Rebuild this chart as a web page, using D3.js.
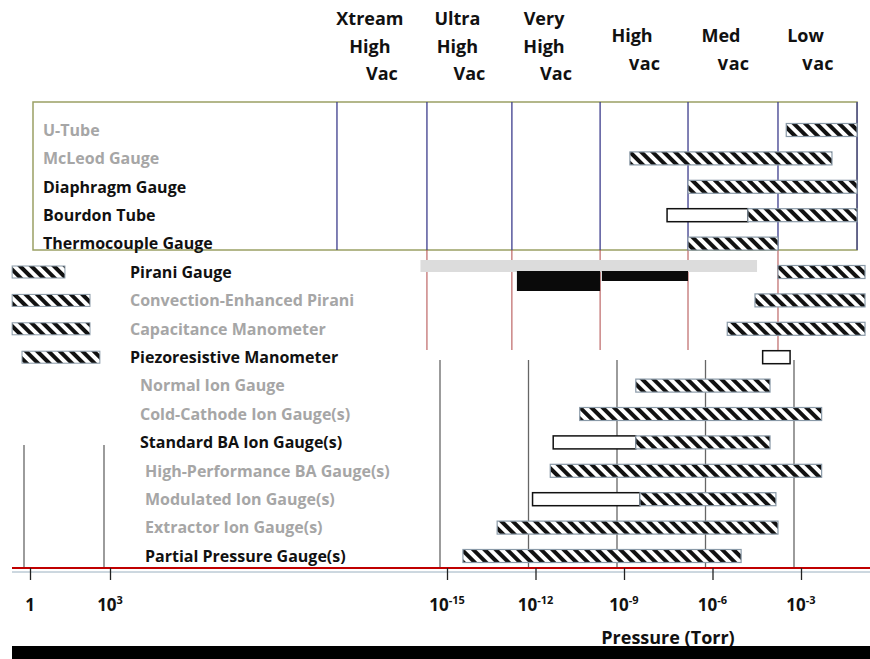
<!DOCTYPE html>
<html>
<head>
<meta charset="utf-8">
<script src="https://cdn.jsdelivr.net/npm/d3@7"></script>
<style>
  body { margin: 0; background: #fff; }
  svg { display: block; }
  text { font-family: "Open Sans", Lato, sans-serif; font-weight: bold; }
</style>
</head>
<body>
<div id="chart"></div>
<script>
// gauge rows, top to bottom
const gauges = ["U-Tube", "McLeod Gauge", "Diaphragm Gauge", "Bourdon Tube", "Thermocouple Gauge",
  "Pirani Gauge", "Convection-Enhanced Pirani", "Capacitance Manometer", "Piezoresistive Manometer",
  "Normal Ion Gauge", "Cold-Cathode Ion Gauge(s)", "Standard BA Ion Gauge(s)",
  "High-Performance BA Gauge(s)", "Modulated Ion Gauge(s)", "Extractor Ion Gauge(s)", "Partial Pressure Gauge(s)"];
const gaugeGrey = [true, true, false, false, false, false, true, true, false, true, true, false, true, true, true, false];

// log10(pressure, Torr) ranges
const hatchFrom = [-3.5, -8.8, -6.83, -4.8, -6.83, -3.78, -4.56, -5.5, null, -8.6, -10.5, -8.6, -11.5, -8.46, -13.3, -14.46];
const hatchTo   = [-1.1, -1.95, -1.1, -1.1, -3.78, -0.83, -0.83, -0.83, null, -4.05, -2.3, -4.05, -2.3, -3.85, -3.78, -5.03];
const openFrom  = [null, null, null, -7.54, null, null, null, null, -4.3, null, null, -11.4, null, -12.1, null, null];
const openTo    = [null, null, null, -4.8, null, null, null, null, -3.37, null, null, -8.6, null, -8.46, null, null];

// vacuum regions (header) and their boundaries
const regions = [["Xtream", "High", "Vac"], ["Ultra", "High", "Vac"], ["Very", "High", "Vac"],
  ["High", "Vac"], ["Med", "Vac"], ["Low", "Vac"]];
const regionEdges = [-18.73, -15.68, -12.8, -9.81, -6.83, -3.78, -1.1];

// axis ticks
const tickExps = [-15, -12, -9, -6, -3];
const leftTickExps = [0, 3];

// solid / band marks in the Pirani row
const piraniBand = [-15.9, -4.49];
const piraniSolid = [[-12.63, -9.81], [-9.75, -6.83]];

// ghost copies on the far left (left scale)
const ghostRows = ["Pirani Gauge", "Convection-Enhanced Pirani", "Capacitance Manometer", "Piezoresistive Manometer"];
const ghostFrom = [-0.67, -0.67, -0.67, -0.3];
const ghostTo   = [1.31, 2.25, 2.25, 2.62];

const W = 870, H = 659;
const svg = d3.select("#chart").append("svg").attr("width", W).attr("height", H);

const x = d3.scaleLog().domain([1e-15, 1e-3]).range([447, 801]);
const xl = d3.scaleLog().domain([1, 1e3]).range([30, 110]);
const y = d3.scalePoint().domain(gauges).range([130, 556]);
const bh = 13;

const defs = svg.append("defs");
defs.append("pattern")
  .attr("id", "hatch").attr("patternUnits", "userSpaceOnUse")
  .attr("width", 8).attr("height", 8).attr("patternTransform", "rotate(-45)")
  .call(p => {
    p.append("rect").attr("width", 8).attr("height", 8).attr("fill", "#fff");
    p.append("rect").attr("width", 4).attr("height", 8).attr("fill", "#111");
  });
defs.append("clipPath").attr("id", "vacClip")
  .append("rect").attr("x", 580).attr("y", 59).attr("width", 290).attr("height", 20);

// panel
svg.append("rect")
  .attr("x", 33).attr("y", 102).attr("width", 824).attr("height", 148)
  .attr("fill", "none").attr("stroke", "#9aa064").attr("stroke-width", 1.5);

// header region grid lines (upper part)
svg.append("g").selectAll("line").data(regionEdges).join("line")
  .attr("x1", d => x(10 ** d)).attr("x2", d => x(10 ** d))
  .attr("y1", 102).attr("y2", 250)
  .attr("stroke", "#3c3c8c").attr("stroke-width", 1.3);

// middle grid lines
svg.append("g").selectAll("line").data(regionEdges.slice(1, 6)).join("line")
  .attr("x1", d => x(10 ** d)).attr("x2", d => x(10 ** d))
  .attr("y1", 250).attr("y2", 350)
  .attr("stroke", "#b04848").attr("stroke-width", 1);

// lower grid lines follow the ticks
svg.append("g").selectAll("line").data(tickExps).join("line")
  .attr("x1", d => x(10 ** d) - 7).attr("x2", d => x(10 ** d) - 7)
  .attr("y1", 360).attr("y2", 568)
  .attr("stroke", "#666").attr("stroke-width", 1.3);

// header labels
const hdr = svg.append("g");
regions.forEach((words, i) => {
  const cx = (x(10 ** regionEdges[i]) + x(10 ** regionEdges[i + 1])) / 2 - 12;
  const top = words.length === 3 ? 25 : 42;
  words.forEach((w, j) => {
    const last = j === words.length - 1;
    hdr.append("text")
      .attr("x", cx + (last ? 12 : 0))
      .attr("y", top + j * 27.5)
      .attr("text-anchor", "middle")
      .attr("font-size", 18)
      .attr("fill", "#111")
      .attr("clip-path", last && words.length === 2 ? "url(#vacClip)" : null)
      .text(w);
  });
});

// Pirani band + solid bars
svg.append("rect")
  .attr("x", x(10 ** piraniBand[0])).attr("width", x(10 ** piraniBand[1]) - x(10 ** piraniBand[0]))
  .attr("y", y("Pirani Gauge") - 12).attr("height", 12).attr("fill", "#dcdcdc");
svg.append("g").selectAll("rect").data(piraniSolid).join("rect")
  .attr("x", d => x(10 ** d[0])).attr("width", d => x(10 ** d[1]) - x(10 ** d[0]))
  .attr("y", y("Pirani Gauge") - 1).attr("height", (d, i) => i === 0 ? 20 : 10)
  .attr("fill", "#0a0a0a");

// left ghost bars
svg.append("g").selectAll("rect").data(ghostRows).join("rect")
  .attr("x", (d, i) => xl(10 ** ghostFrom[i]))
  .attr("width", (d, i) => xl(10 ** ghostTo[i]) - xl(10 ** ghostFrom[i]))
  .attr("y", d => y(d) - 6).attr("height", 12)
  .attr("fill", "url(#hatch)").attr("stroke", "#8a9aa8");
svg.append("g").selectAll("line").data(leftTickExps).join("line")
  .attr("x1", d => xl(10 ** d) - 6).attr("x2", d => xl(10 ** d) - 6)
  .attr("y1", 445).attr("y2", 568)
  .attr("stroke", "#666").attr("stroke-width", 1.3);

// open (outline) bars
const rows = gauges.map((g, i) => ({g, i}));
svg.append("g").selectAll("rect").data(rows.filter(d => openFrom[d.i] !== null)).join("rect")
  .attr("x", d => x(10 ** openFrom[d.i]))
  .attr("width", d => x(10 ** openTo[d.i]) - x(10 ** openFrom[d.i]))
  .attr("y", d => y(d.g) - bh / 2).attr("height", bh)
  .attr("fill", "#fff").attr("stroke", "#111").attr("stroke-width", 1.5);

// hatched bars
svg.append("g").selectAll("rect").data(rows.filter(d => hatchFrom[d.i] !== null)).join("rect")
  .attr("x", d => x(10 ** hatchFrom[d.i]))
  .attr("width", d => x(10 ** hatchTo[d.i]) - x(10 ** hatchFrom[d.i]))
  .attr("y", d => y(d.g) - bh / 2).attr("height", bh)
  .attr("fill", "url(#hatch)").attr("stroke", "#8a9aa8").attr("stroke-width", 1.2);

// row labels
const indent = i => i < 5 ? 43 : i < 9 ? 130 : i < 12 ? 140 : 145;
svg.append("g").selectAll("text").data(rows).join("text")
  .attr("x", d => indent(d.i))
  .attr("y", d => y(d.g))
  .attr("dy", "0.36em")
  .attr("font-size", 16)
  .attr("fill", d => gaugeGrey[d.i] ? "#a6a6a6" : "#111")
  .text(d => d.g);

// x axis
const axisY = 568;
svg.append("line").attr("x1", 12).attr("x2", 870).attr("y1", axisY).attr("y2", axisY)
  .attr("stroke", "#c00000").attr("stroke-width", 2);
svg.append("line").attr("x1", 12).attr("x2", 870).attr("y1", axisY + 4).attr("y2", axisY + 4)
  .attr("stroke", "#9ab0c0").attr("stroke-width", 1);

const ax = svg.append("g").attr("transform", `translate(0,${axisY})`)
  .call(d3.axisBottom(x).tickValues(tickExps.map(e => 10 ** e)).tickSize(12).tickFormat(""));
ax.select(".domain").remove();
ax.selectAll(".tick line").attr("stroke", "#222").attr("stroke-width", 1.3);
const axl = svg.append("g").attr("transform", `translate(0,${axisY})`)
  .call(d3.axisBottom(xl).tickValues(leftTickExps.map(e => 10 ** e)).tickSize(12).tickFormat(""));
axl.select(".domain").remove();
axl.selectAll(".tick line").attr("stroke", "#222").attr("stroke-width", 1.3);

function tickLabel(sel, sc, e) {
  const t = sel.append("text").attr("x", sc(10 ** e)).attr("y", 611)
    .attr("text-anchor", "middle").attr("font-size", 17).attr("fill", "#111");
  if (e === 0) { t.text("1"); return; }
  t.append("tspan").text("10");
  t.append("tspan").attr("font-size", 11).attr("dy", -7).text(e);
}
const tl = svg.append("g");
tickExps.forEach(e => tickLabel(tl, x, e));
leftTickExps.forEach(e => tickLabel(tl, xl, e));

// axis title
svg.append("text").attr("x", 668).attr("y", 644).attr("text-anchor", "middle")
  .attr("font-size", 18).attr("fill", "#111").text("Pressure (Torr)");
svg.append("rect").attr("x", 12).attr("y", 646).attr("width", 858).attr("height", 13).attr("fill", "#000");
</script>
</body>
</html>
